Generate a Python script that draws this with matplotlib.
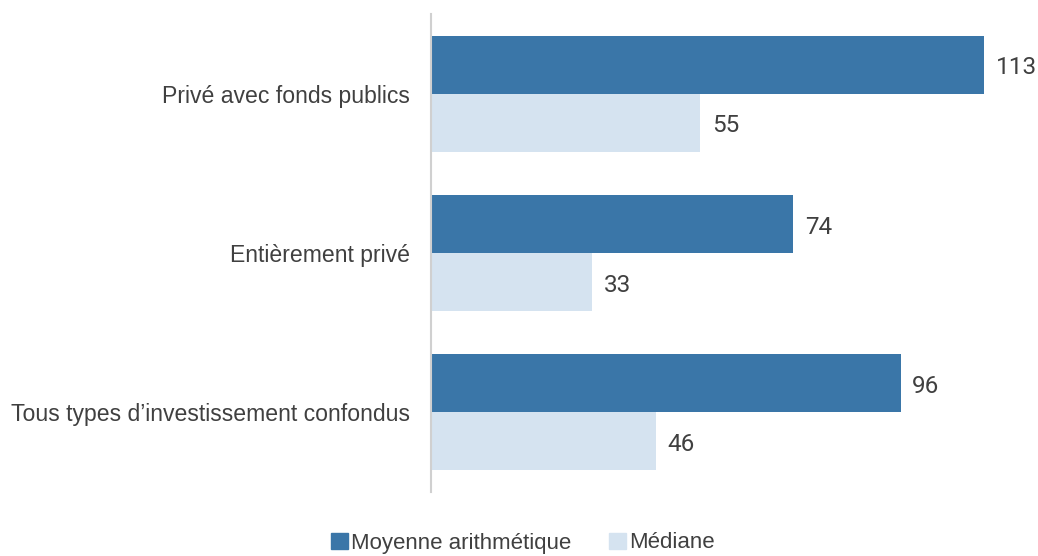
import matplotlib
matplotlib.use("Agg")
import matplotlib.pyplot as plt
from matplotlib.patches import Patch
import numpy as np

categories = ["Privé avec fonds publics", "Entièrement privé", "Tous types d\u2019investissement confondus"]
moyenne = [113, 74, 96]
mediane = [55, 33, 46]
series_names = ["Moyenne arithmétique", "Médiane"]

dark = "#3A76A8"
light = "#D5E3F0"
txt = "#404040"

plt.rcParams['font.family'] = ['Liberation Sans', 'DejaVu Sans']

fig = plt.figure(figsize=(10.38, 5.56), dpi=100)
ax = fig.add_axes([431/1038, 1-492/556, 587/1038, (492-14)/556])

y = np.arange(len(categories))
h = 0.364
ax.barh(y - h/2, moyenne, height=h, color=dark)
ax.barh(y + h/2, mediane, height=h, color=light)

for yi, v in zip(y - h/2, moyenne):
    ax.text(v + 2.4, yi + 0.02, f"{v}", va="center", ha="left", fontsize=17.5, color=txt, family=['Roboto', 'DejaVu Sans'])
for yi, v in zip(y + h/2, mediane):
    ax.text(v + 2.4, yi + 0.02, f"{v}", va="center", ha="left", fontsize=17.5, color=txt, family=['Roboto', 'DejaVu Sans'])

ax.set_ylim(2.5, -0.5)
ax.set_xlim(0, 120)
ax.set_yticks(y)
ax.set_yticklabels(categories, fontsize=16.6, color=txt)
ax.tick_params(axis='y', length=0, pad=15)
ax.set_xticks([])
for s in ["top", "right", "bottom"]:
    ax.spines[s].set_visible(False)
ax.spines["left"].set_color("#D0D0D0")
ax.spines["left"].set_linewidth(1.5)

handles = [Patch(color=dark, label=series_names[0]), Patch(color=light, label=series_names[1])]
fig.legend(handles=handles, loc="center", bbox_to_anchor=(523/1038, 1-543/556), ncol=2,
           frameon=False, fontsize=16, handlelength=0.75, handleheight=0.75, handletextpad=0.15,
           columnspacing=1.7, labelcolor=txt)

fig.savefig("out.png", dpi=100)
